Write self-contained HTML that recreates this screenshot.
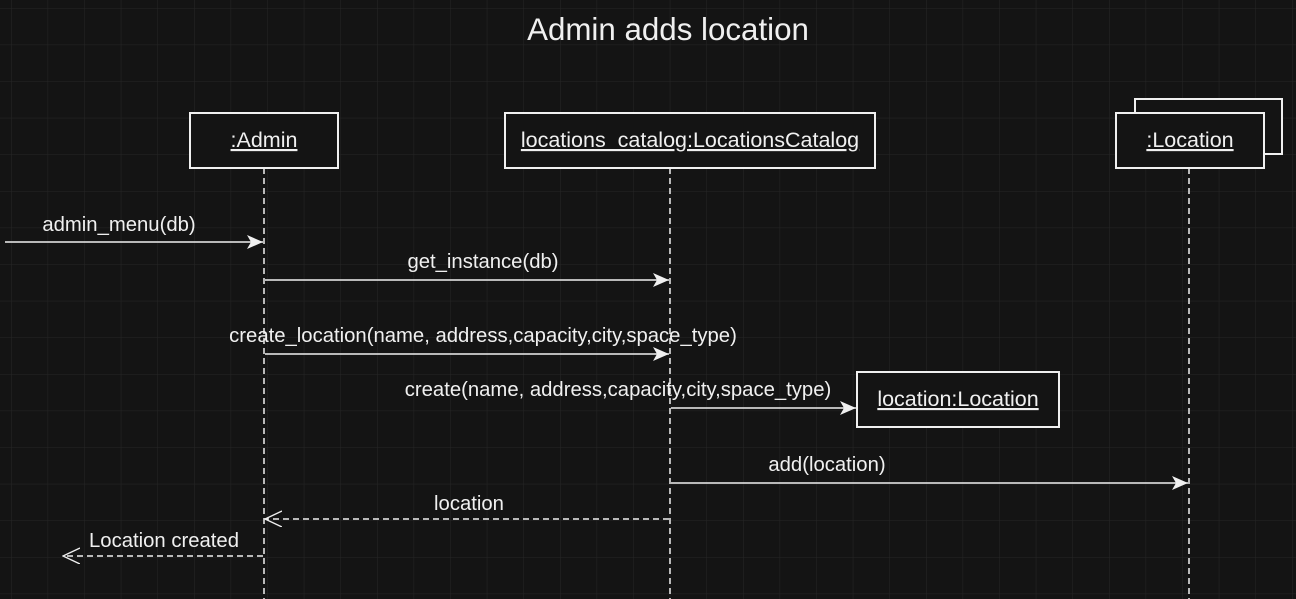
<!DOCTYPE html>
<html><head><meta charset="utf-8"><style>
html,body{margin:0;padding:0;background:#141414;}
svg{display:block;font-family:"Liberation Sans",Arial,sans-serif;}
</style></head><body>
<svg width="1296" height="599" viewBox="0 0 1296 599" xmlns="http://www.w3.org/2000/svg">
<defs>
<pattern id="g" x="11" y="8" width="36.6" height="36.6" patternUnits="userSpaceOnUse">
<path d="M0 0H36.6M0 0V36.6" stroke="#262626" stroke-width="1" fill="none"/>
</pattern>
<marker id="a" markerWidth="18" markerHeight="14" refX="16" refY="7" orient="auto" markerUnits="userSpaceOnUse">
<path d="M0 0L16 7L0 14L4 7Z" fill="#f0f0f0"/>
</marker>
<marker id="o" markerWidth="18" markerHeight="18" refX="17" refY="8" orient="auto" markerUnits="userSpaceOnUse">
<path d="M0 0L17 8L0 16" fill="none" stroke="#f0f0f0" stroke-width="1.4"/>
</marker>
</defs>
<rect width="1296" height="599" fill="#141414"/>
<rect width="1296" height="599" fill="url(#g)"/>
<text x="668" y="40" font-size="31.3" fill="#f0f0f0" text-anchor="middle">Admin adds location</text>

<g stroke="#f0f0f0" fill="#141414" stroke-width="2">
<rect x="190" y="113" width="148" height="55"/>
<rect x="505" y="113" width="370" height="55"/>
<rect x="1135" y="99" width="147" height="55"/>
<rect x="1116" y="113" width="148" height="55"/>
<rect x="857" y="372" width="202" height="55"/>
</g>
<g stroke="#f0f0f0" stroke-width="1.5" stroke-dasharray="6,4">
<line x1="264" y1="168" x2="264" y2="599"/>
<line x1="670" y1="168" x2="670" y2="599"/>
<line x1="1189" y1="168" x2="1189" y2="599"/>
</g>
<g font-size="21.5" fill="#f0f0f0" text-anchor="middle" text-decoration="underline">
<text x="264" y="147">:Admin</text>
<text x="690" y="147">locations_catalog:LocationsCatalog</text>
<text x="1190" y="147">:Location</text>
<text x="958" y="406">location:Location</text>
</g>

<g stroke="#f0f0f0" stroke-width="1.5" fill="none">
<line x1="5" y1="242" x2="263" y2="242" marker-end="url(#a)"/>
<line x1="265" y1="280" x2="669" y2="280" marker-end="url(#a)"/>
<line x1="265" y1="354" x2="669" y2="354" marker-end="url(#a)"/>
<line x1="671" y1="408" x2="856" y2="408" marker-end="url(#a)"/>
<line x1="671" y1="483" x2="1188" y2="483" marker-end="url(#a)"/>
<line x1="669" y1="519" x2="265" y2="519" stroke-dasharray="6,4" marker-end="url(#o)"/>
<line x1="263" y1="556" x2="63" y2="556" stroke-dasharray="6,4" marker-end="url(#o)"/>
</g>
<g font-size="20.3" fill="#f0f0f0" text-anchor="middle">
<text x="119" y="231">admin_menu(db)</text>
<text x="483" y="268">get_instance(db)</text>
<text x="483" y="342">create_location(name, address,capacity,city,space_type)</text>
<text x="618" y="396">create(name, address,capacity,city,space_type)</text>
<text x="827" y="471">add(location)</text>
<text x="469" y="510">location</text>
<text x="164" y="547">Location created</text>
</g>
</svg>
</body></html>
